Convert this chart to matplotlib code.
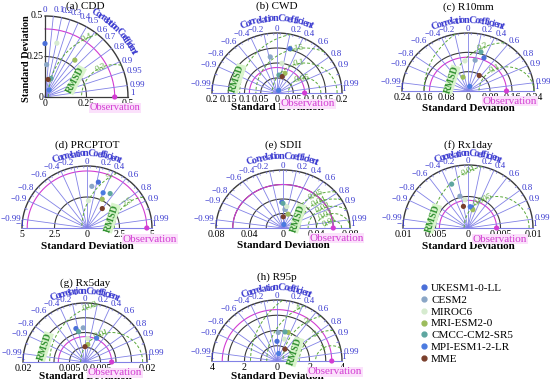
import numpy as np
import matplotlib
matplotlib.use("Agg")
import matplotlib.pyplot as plt
from matplotlib.font_manager import FontProperties
from matplotlib.lines import Line2D

plt.rcParams['font.family'] = ['Liberation Serif', 'DejaVu Serif']

W, H = 550, 389
fig = plt.figure(figsize=(5.5, 3.89), dpi=100)
renderer = fig.canvas.get_renderer()

models = ["UKESM1-0-LL", "CESM2", "MIROC6", "MRI-ESM2-0", "CMCC-CM2-SR5", "MPI-ESM1-2-LR", "MME"]
model_colors = ["#4a6fd8", "#8aa6c6", "#d6ebcf", "#9cbc5c", "#5ea6a0", "#4b7be0", "#7a3f2c"]

# standard deviation and correlation of each model (order as `models`)
cdd_std = [0.33, 0.20, 0.34, 0.29, 0.12, 0.05, 0.11]
cdd_corr = [0.00, 0.05, 0.21, 0.62, 0.30, 0.50, 0.17]
cwd_std = [0.153, 0.122, 0.100, 0.070, 0.060, 0.010, 0.057]
cwd_corr = [0.26, -0.17, 0.15, 0.35, 0.10, 0.50, 0.28]
r10_std = [0.149, 0.130, 0.125, 0.060, 0.168, 0.020, 0.076]
r10_corr = [0.39, 0.20, -0.09, -0.30, 0.28, 0.30, 0.54]
prcp_std = [3.8, 3.38, 2.2, 2.6, 3.3, 3.1, 1.96]
prcp_corr = [0.23, 0.11, 0.05, 0.45, 0.54, 0.40, 0.60]
sdii_std = [0.0355, 0.0256, 0.030, 0.020, 0.034, 0.005, 0.0155]
sdii_corr = [-0.04, 0.09, 0.15, 0.30, 0.00, 0.20, 0.02]
rx1_std = [0.0033, 0.0052, 0.0045, 0.0030, 0.0074, 0.0034, 0.0035]
rx1_corr = [0.17, -0.24, -0.10, 0.25, -0.34, 0.10, -0.20]
rx5_std = [0.0117, 0.0116, 0.0080, 0.0060, 0.0105, 0.0089, 0.0052]
rx5_corr = [-0.25, -0.05, 0.10, 0.15, -0.20, 0.42, 0.00]
r95_std = [1.29, 1.87, 1.5, 2.0, 1.97, 0.5, 0.92]
r95_corr = [0.00, 0.04, 0.30, 0.35, 0.25, 0.20, 0.53]

titles = ["(a) CDD", "(b) CWD", "(c) R10mm", "(d) PRCPTOT", "(e) SDII", "(f) Rx1day", "(g) Rx5day", "(h) R95p"]
all_std = [cdd_std, cwd_std, r10_std, prcp_std, sdii_std, rx1_std, rx5_std, r95_std]
all_corr = [cdd_corr, cwd_corr, r10_corr, prcp_corr, sdii_corr, rx1_corr, rx5_corr, r95_corr]
obs_std = [0.42, 0.085, 0.14, 4.6, 0.06, 0.0044, 0.0086, 3.37]
max_std = [0.5, 0.2, 0.24, 5, 0.08, 0.01, 0.02, 4]
std_arcs = [[0.25], [0.05, 0.1, 0.15], [0.08, 0.16], [2.5], [0.02, 0.04, 0.06],
            [0.005], [0.005, 0.01, 0.015], [1, 2, 3]]
std_ticks = [[0, 0.25, 0.5], [0.05, 0.1, 0.15, 0.2], [0.08, 0.16, 0.24], [2.5, 5],
             [0.04, 0.08], [0.005, 0.01], [0.005, 0.02], [2, 4]]
std_tick_labels = [["0", "0.25", "0.5"], ["0.05", "0.1", "0.15", "0.2"], ["0.08", "0.16", "0.24"],
                   ["2.5", "5"], ["0.04", "0.08"], ["0.005", "0.01"], ["0.005", "0.02"], ["2", "4"]]
rmsd_levels = [[0.2, 0.4], [0.05, 0.1, 0.15, 0.2], [0.1, 0.2, 0.3], [2.5, 5],
               [0.01, 0.02, 0.03, 0.04, 0.05], [0.005, 0.01], [0.01, 0.02], [1, 2, 3, 4, 5]]
rmsd_labels = [["0.2", "0.4"], ["0.05", "0.1", "0.15", "0.2"], ["0.1", "0.2", "0.3"], ["2.5", "5"],
               ["0.01", "0.02", "0.03", "0.04", "0.05"], ["0.005", "0.01"], ["0.01", "0.02"],
               ["1", "2", "3", "4", "5"]]

corr_half = [-0.99, -0.9, -0.8, -0.6, -0.4, -0.2, 0, 0.2, 0.4, 0.6, 0.8, 0.9, 0.99]
corr_quarter = [0.1, 0.2, 0.3, 0.4, 0.5, 0.6, 0.7, 0.8, 0.9, 0.95, 0.99]

# layout per panel: origin x/y (px), radius x/y (px), title y, curved text radius and
# length (px), rmsd label angle, RMSD word position, y of "Standard Deviation"
layout = [
    (45, 97, 83, 81, 1.12, 1.2, 60, 115, (0.37, 0.21), None),
    (277, 93, 65, 60, 1.45, 1.24, 70, 100, (-0.61, 0.24), -0.25),
    (468, 91, 66, 58, 1.45, 1.22, 68, 115, (-0.25, 0.19), -0.3),
    (87, 228, 65, 62, 1.34, 1.2, 67, 125, (0.38, 0.16), -0.3),
    (283, 228, 67, 58, 1.43, 1.24, 67, 115, (0.22, 0.17), -0.31),
    (468, 228, 65, 63, 1.32, 1.18, 65, 115, (-0.54, 0.15), -0.3),
    (85, 362, 62, 59, 1.34, 1.2, 67, 110, (-0.65, 0.26), -0.25),
    (277, 361, 65, 61, 1.38, 1.2, 68, 120, (0.28, 0.15), -0.26),
]

LINE_BLUE = "#8282e6"
LABEL_BLUE = "#3a3ad0"
GREEN = "#5aa83a"
MAGENTA = "#d23cd2"
GRID = "#3a3a3a"


def text_w(s, fp):
    return renderer.get_text_width_height_descent(s, fp, ismath=False)[0]


def curved_text(ax, Rx, Ry, text, r, a_mid, span, fs, color):
    fp = FontProperties(family='Liberation Serif', weight='bold', size=fs)
    total = text_w(text, fp)
    base = text_w('l', fp)
    squeeze = span / total
    Rm = 0.5 * (Rx + Ry)
    for i, ch in enumerate(text):
        if ch == ' ':
            continue
        start = text_w(text[:i] + 'l', fp) - base
        c = (start + text_w(ch, fp) / 2 - total / 2) * squeeze
        a = np.radians(a_mid) - c / (r * Rm)
        rot = np.degrees(np.arctan2(Ry * np.cos(a), -Rx * np.sin(a))) - 180
        ax.text(r * np.cos(a), r * np.sin(a), ch, rotation=rot,
                rotation_mode='anchor', ha='center', va='center',
                fontproperties=fp, color=color)


def fmt(c):
    if c == 0:
        return "0"
    return ("\u2212" if c < 0 else "") + ("%g" % abs(c))


def add_panel(ox, oy, Rx, Ry, x0, x1, y0, y1):
    ax = fig.add_axes([(ox + x0 * Rx) / W, 1 - (oy - y0 * Ry) / H,
                       (x1 - x0) * Rx / W, (y1 - y0) * Ry / H])
    ax.set_xlim(x0, x1)
    ax.set_ylim(y0, y1)
    ax.axis('off')
    return ax


def rmsd_part(ax, i, ro, S, lab_ang, theta_max):
    phi = np.linspace(0, np.pi, 500)
    for lev, lab in zip(rmsd_levels[i], rmsd_labels[i]):
        r = lev / S
        x = ro + r * np.cos(phi)
        y = r * np.sin(phi)
        out = (x ** 2 + y ** 2 > 1.0) | (np.arctan2(y, x) > theta_max)
        x[out] = np.nan
        ax.plot(x, y, color=GREEN, lw=0.7, ls=(0, (3, 2)), zorder=2)
        a = np.radians(lab_ang)
        lx, ly = ro + r * np.cos(a), r * np.sin(a)
        if lx ** 2 + ly ** 2 < 0.97 and np.arctan2(ly, lx) < theta_max:
            ax.text(lx, ly, lab, color=GREEN, fontsize=6.5, rotation=lab_ang - 90,
                    ha='center', va='center', zorder=3)


def markers(ax, i, S, ro):
    s = np.array(all_std[i]) / S
    c = np.array(all_corr[i])
    ax.scatter(s * c, s * np.sqrt(1 - c ** 2), s=14, c=model_colors, edgecolors='none', zorder=5)
    ax.scatter([ro], [0], s=14, color=MAGENTA, edgecolors='none', zorder=5)


def rmsd_word(ax, pos, rot):
    ax.text(pos[0], pos[1], "RMSD", color="#2f8f2f", fontsize=7, weight='bold',
            rotation=rot, ha='center', va='center', zorder=4,
            bbox=dict(facecolor="#d9f4cc", edgecolor='none', pad=0.3))


def half_panel(i):
    ox, oy, Rx, Ry, ty, cr, cspan, lab_ang, rmsd_pos, sd_y = layout[i]
    S = max_std[i]
    ro = obs_std[i] / S
    ax = add_panel(ox, oy, Rx, Ry, -1.5, 1.5, -0.45, 1.55)
    th = np.linspace(0, np.pi, 300)
    for s in std_arcs[i]:
        ax.plot(s / S * np.cos(th), s / S * np.sin(th), color=GRID, lw=0.8, zorder=1)
    ax.plot(np.cos(th), np.sin(th), color=GRID, lw=1.0, zorder=1)
    ax.plot(ro * np.cos(th), ro * np.sin(th), color=MAGENTA, lw=0.8, zorder=1)
    ax.plot([-1, 1], [0, 0], color=LINE_BLUE, lw=0.8, zorder=1)
    for c in corr_half:
        a = np.arccos(c)
        ax.plot([0, np.cos(a)], [0, np.sin(a)], color=LINE_BLUE, lw=0.6, zorder=1)
        ha = 'left' if c > 0.1 else ('right' if c < -0.1 else 'center')
        ax.text(1.03 * np.cos(a), 1.07 * np.sin(a), fmt(c), color=LABEL_BLUE,
                fontsize=6.5, ha=ha, va='center')
    for c in np.concatenate([np.arange(-0.95, 1.0, 0.1), [-0.95, 0.95]]):
        a = np.arccos(c)
        ax.plot([0.97 * np.cos(a), np.cos(a)], [0.97 * np.sin(a), np.sin(a)], color=LINE_BLUE, lw=0.5)
    ax.text(-1.02, 0.0, "\u22121", color=LABEL_BLUE, fontsize=6.5, ha='center', va='bottom')
    ax.text(1.03, 0.0, "1", color=LABEL_BLUE, fontsize=6.5, ha='center', va='bottom')
    curved_text(ax, Rx, Ry, "Correlation Coefficient", cr, 90, cspan, 7.5, LABEL_BLUE)
    rmsd_part(ax, i, ro, S, lab_ang, np.pi)
    rmsd_word(ax, rmsd_pos, 72)
    ax.text(0, -0.11, "0", fontsize=7.2, ha='center', va='center')
    for v, lab in zip(std_ticks[i], std_tick_labels[i]):
        for sg in (-1, 1):
            ax.text(sg * v / S, -0.11, lab, fontsize=7.2, ha='center', va='center')
    ax.text(0, sd_y, "Standard Deviation", fontsize=8, weight='bold', ha='center', va='center')
    ax.text(ro + 0.05, -0.18, "Observation", fontsize=8, color=MAGENTA, ha='center', va='center',
            bbox=dict(facecolor="#fbe1fb", edgecolor='none', pad=0.4))
    ax.text(0, ty, titles[i], fontsize=8, ha='center', va='center')
    markers(ax, i, S, ro)


def quarter_panel(i):
    ox, oy, Rx, Ry, ty, cr, cspan, lab_ang, rmsd_pos, sd_y = layout[i]
    S = max_std[i]
    ro = obs_std[i] / S
    ax = add_panel(ox, oy, Rx, Ry, -0.55, 1.45, -0.3, 1.2)
    th = np.linspace(0, np.pi / 2, 200)
    for s in std_arcs[i]:
        ax.plot(s / S * np.cos(th), s / S * np.sin(th), color=GRID, lw=0.8, zorder=1)
    ax.plot(np.cos(th), np.sin(th), color=GRID, lw=1.0, zorder=1)
    ax.plot(ro * np.cos(th), ro * np.sin(th), color=MAGENTA, lw=0.8, zorder=1)
    ax.plot([0, 1], [0, 0], color=GRID, lw=0.9)
    ax.plot([0, 0], [0, 1], color=GRID, lw=0.9)
    for c in corr_quarter:
        a = np.arccos(c)
        ax.plot([0, np.cos(a)], [0, np.sin(a)], color=LINE_BLUE, lw=0.6, zorder=1)
        va = 'bottom' if c < 0.55 else 'center'
        ax.text(1.03 * np.cos(a), 1.03 * np.sin(a), fmt(c), color=LABEL_BLUE,
                fontsize=6.5, ha='left', va=va)
    ax.text(0, 1.03, "0", color=LABEL_BLUE, fontsize=6.5, ha='center', va='bottom')
    ax.text(1.03, 0.0, "1", color=LABEL_BLUE, fontsize=6.5, ha='left', va='bottom')
    curved_text(ax, Rx, Ry, "Correlation Coefficient", cr, 44, cspan, 7, LABEL_BLUE)
    rmsd_part(ax, i, ro, S, lab_ang, np.pi / 2)
    rmsd_word(ax, rmsd_pos, 62)
    for v, lab in zip(std_ticks[i], std_tick_labels[i]):
        ax.text(v / S, -0.08, lab, fontsize=7, ha='center', va='center')
        ax.text(-0.02, v / S, lab, fontsize=7, ha='right', va='center')
    ax.text(-0.22, 0.47, "Standard Deviation", fontsize=7.5, weight='bold', rotation=90,
            ha='center', va='center')
    ax.text(0.84, -0.13, "Observation", fontsize=7.5, color=MAGENTA, ha='center', va='center',
            bbox=dict(facecolor="#fbe1fb", edgecolor='none', pad=0.4))
    ax.text(0.49, ty, titles[i], fontsize=8, ha='center', va='center')
    markers(ax, i, S, ro)


quarter_panel(0)
for k in range(1, 8):
    half_panel(k)

handles = [Line2D([], [], marker='o', ls='none', color=c, markersize=3.5) for c in model_colors]
fig.legend(handles, models, loc='upper left', bbox_to_anchor=(421 / W, 1 - 283 / H),
           frameon=False, fontsize=8, handlelength=0.6, handletextpad=0.3,
           labelspacing=0.19, borderaxespad=0, borderpad=0)

fig.savefig("out.png", dpi=100)
